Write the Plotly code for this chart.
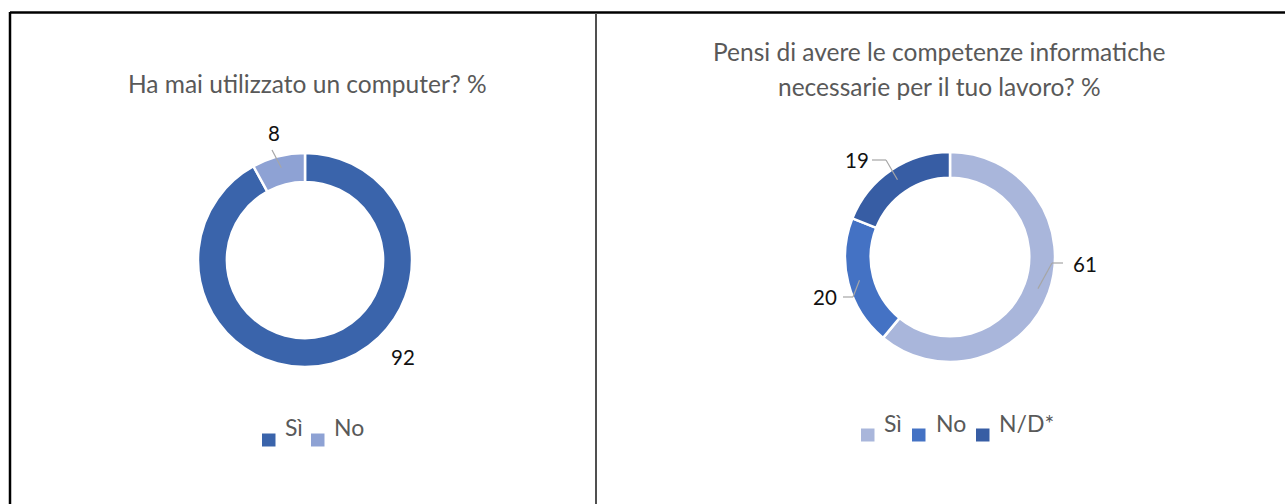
import math
import plotly.graph_objects as go

W, H = 1285, 504

# ---- data ----
left_title = "Ha mai utilizzato un computer? %"
left_labels = ["Sì", "No"]
left_values = [92, 8]
left_colors = ["#3A64AB", "#8EA2D4"]

right_title_lines = ["Pensi di avere le competenze informatiche", "necessarie per il tuo lavoro? %"]
right_labels = ["Sì", "No", "N/D*"]
right_values = [61, 20, 19]
right_colors = ["#A9B6DB", "#4472C4", "#375DA4"]

FONT = "Lato"
GREY = "#595959"


def px(x):
    return x / W


def py(y):
    return 1 - y / H


# pie geometry (pixels)
L_C, L_R = (305, 260), 107
R_C, R_R = (950, 257), 105

fig = go.Figure()
fig.add_trace(go.Pie(
    labels=left_labels, values=left_values, hole=0.73, sort=False, direction="clockwise",
    marker=dict(colors=left_colors, line=dict(color="white", width=2.5)),
    textinfo="none", hoverinfo="label+value", showlegend=False,
    domain=dict(x=[px(L_C[0] - L_R), px(L_C[0] + L_R)], y=[py(L_C[1] + L_R), py(L_C[1] - L_R)]),
))
fig.add_trace(go.Pie(
    labels=right_labels, values=right_values, hole=0.755, sort=False, direction="clockwise",
    marker=dict(colors=right_colors, line=dict(color="white", width=2.5)),
    textinfo="none", hoverinfo="label+value", showlegend=False,
    domain=dict(x=[px(R_C[0] - R_R), px(R_C[0] + R_R)], y=[py(R_C[1] + R_R), py(R_C[1] - R_R)]),
))

shapes = []
annotations = []

# frame lines
shapes.append(dict(type="line", xref="paper", yref="paper", x0=px(10), x1=1.0, y0=py(12.5), y1=py(12.5),
                   line=dict(color="black", width=2.5)))
shapes.append(dict(type="line", xref="paper", yref="paper", x0=px(10), x1=px(10), y0=py(12), y1=0,
                   line=dict(color="black", width=2.5)))
shapes.append(dict(type="line", xref="paper", yref="paper", x0=px(596), x1=px(596), y0=py(13), y1=0,
                   line=dict(color="#505050", width=2)))

# titles
annotations.append(dict(text=left_title, x=px(307), y=py(84), xref="paper", yref="paper",
                        showarrow=False, xanchor="center", yanchor="middle",
                        font=dict(family=FONT, size=24.5, color=GREY)))
for line, yy in zip(right_title_lines, [52, 86]):
    annotations.append(dict(text=line, x=px(939), y=py(yy), xref="paper", yref="paper",
                            showarrow=False, xanchor="center", yanchor="middle",
                            font=dict(family=FONT, size=24.5, color=GREY)))


def mid_point(values, idx, center, r):
    tot = sum(values)
    start = sum(values[:idx])
    ang = (start + values[idx] / 2) / tot * 2 * math.pi
    return center[0] + r * math.sin(ang), center[1] - r * math.cos(ang)


# data labels: (values, idx, center, radius, label pos, elbow, draw line)
label_specs = [
    (left_values, 1, L_C, L_R, (274, 133), None, True),
    (left_values, 0, L_C, L_R, (403, 357), None, False),
    (right_values, 0, R_C, R_R, (1085, 264), (1052, 263, 1063), True),
    (right_values, 1, R_C, R_R, (825, 297), (853, 297, 843), True),
    (right_values, 2, R_C, R_R, (857, 160), (886, 160, 872), True),
]
for vals, idx, c, r, (lx, ly), elbow, draw in label_specs:
    annotations.append(dict(text=str(vals[idx]), x=px(lx), y=py(ly), xref="paper", yref="paper",
                            showarrow=False, xanchor="center", yanchor="middle",
                            font=dict(family=FONT, size=20.5, color="#111111")))
    if draw:
        mx, my = mid_point(vals, idx, c, r * 0.89)
        if elbow is None:
            shapes.append(dict(type="line", xref="paper", yref="paper", x0=px(lx - 2), y0=py(ly + 17),
                               x1=px(mx), y1=py(my), line=dict(color="#A6A6A6", width=1.2)))
        else:
            ex, ey, ox = elbow
            shapes.append(dict(type="line", xref="paper", yref="paper", x0=px(ox), y0=py(ey),
                               x1=px(ex), y1=py(ey), line=dict(color="#A6A6A6", width=1.2)))
            shapes.append(dict(type="line", xref="paper", yref="paper", x0=px(ex), y0=py(ey),
                               x1=px(mx), y1=py(my), line=dict(color="#A6A6A6", width=1.2)))

# legends
legend_specs = [
    (left_labels, left_colors, [262, 311], [283, 332], 440, 427),
    (right_labels, right_colors, [861, 912, 976], [882, 934, 997], 435, 423),
]
for labs, cols, sq_x, tx_x, sq_cy, tx_cy in legend_specs:
    for lab, col, sx, tx in zip(labs, cols, sq_x, tx_x):
        shapes.append(dict(type="rect", xref="paper", yref="paper", x0=px(sx), x1=px(sx + 13.5),
                           y0=py(sq_cy + 6.5), y1=py(sq_cy - 6.5), fillcolor=col, line=dict(width=0)))
        annotations.append(dict(text=lab, x=px(tx), y=py(tx_cy), xref="paper", yref="paper",
                                showarrow=False, xanchor="left", yanchor="middle",
                                font=dict(family=FONT, size=23, color=GREY)))

fig.update_layout(
    width=W, height=H, margin=dict(l=0, r=0, t=0, b=0),
    paper_bgcolor="white", plot_bgcolor="white",
    shapes=shapes, annotations=annotations, showlegend=False,
)

fig.write_html("out.html", config={"displayModeBar": False},
               post_script="document.body.style.margin='0';document.body.style.padding='0';")
